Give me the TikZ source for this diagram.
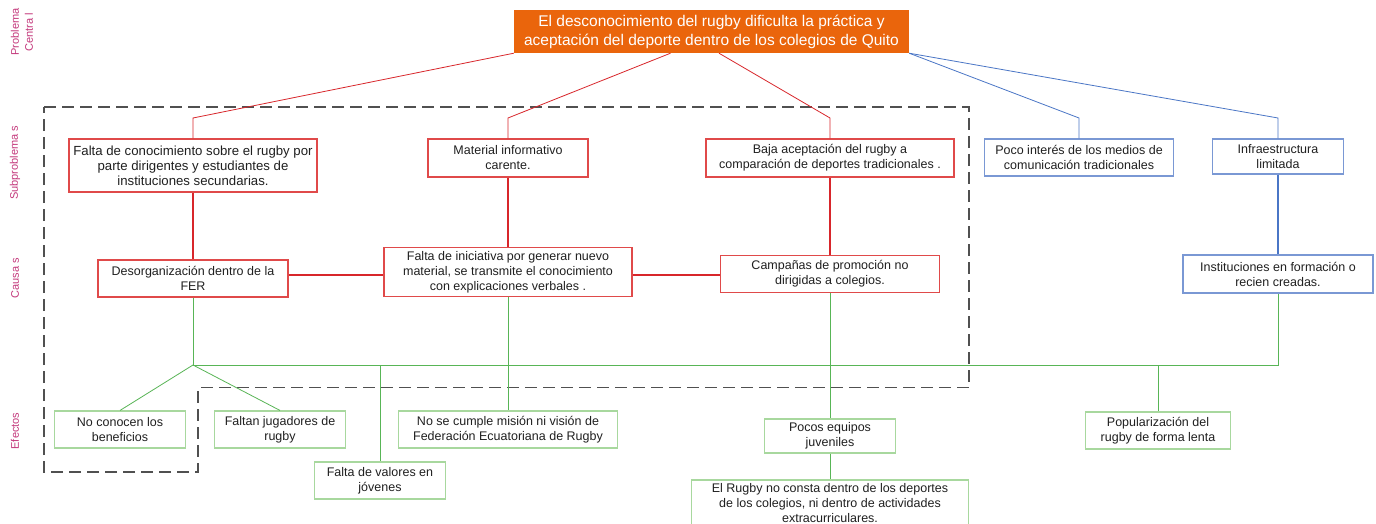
\documentclass[tikz,border=0pt]{standalone}
\usepackage{fontspec}
\setmainfont{Liberation Sans}
\usetikzlibrary{calc}
\definecolor{orng}{HTML}{EA650C}
\definecolor{redln}{HTML}{D8262B}
\definecolor{redbd}{HTML}{E04A4A}
\definecolor{blueln}{HTML}{4A76C6}
\definecolor{bluebd}{HTML}{7A98D4}
\definecolor{greenln}{HTML}{58B556}
\definecolor{greenbd}{HTML}{A8D89E}
\definecolor{lab}{HTML}{C4397C}
\definecolor{dash}{HTML}{505050}
\definecolor{txt}{HTML}{202020}
\tikzset{
  box/.style={draw, line width=1.1pt, fill=white, align=center, inner sep=1pt,
    text=txt, font=\fontsize{12.5}{15}\selectfont},
  redbox/.style={box, draw=redbd},
  bluebox/.style={box, draw=bluebd},
  greenbox/.style={box, draw=greenbd},
  titlebox/.style={fill=orng, text=white, align=center, inner sep=0pt,
    font=\fontsize{15.5}{19}\selectfont},
  sidelab/.style={rotate=90, text=lab, align=center, font=\fontsize{11}{14}\selectfont},
  redthin/.style={draw=redln, line width=0.8pt},
  redthick/.style={draw=redln, line width=1.8pt},
  bluethin/.style={draw=blueln, line width=0.8pt},
  bluethick/.style={draw=blueln, line width=1.8pt},
  greenthin/.style={draw=greenln, line width=0.8pt},
  dashframe/.style={draw=dash, line width=1.3pt, dash pattern=on 12pt off 6pt},
}
\begin{document}
\begin{tikzpicture}[x=1pt, y=-1pt]
\clip (0,0) rectangle (1376,524);
\fill[white] (0,0) rectangle (1376,524);

% dashed frame
\draw[dashframe] (44,107) -- (969,107) -- (969,387.5) -- (198,387.5) -- (198,472) -- (44,472) -- cycle;

% side labels
\node[sidelab] (lprob) at (22,32) {Problema\\Centra l};
\node[sidelab] (lsub) at (15,163) {Subproblema s};
\node[sidelab] (lcau) at (15,278) {Causa s};
\node[sidelab] (lefe) at (15,431) {Efectos};

% title
\node[titlebox, minimum width=395pt, minimum height=43pt] (title) at (711.5,31.5)
  {El desconocimiento del rugby dificulta la práctica y\\aceptación del deporte dentro de los colegios de Quito};

% subproblems
\node[redbox, minimum width=248pt, minimum height=53pt, font=\fontsize{13.2}{15}\selectfont] (s1) at (193,165.5)
  {Falta de conocimiento sobre el rugby por\\parte dirigentes y estudiantes de\\instituciones secundarias.};
\node[redbox, minimum width=160pt, minimum height=38pt] (s2) at (508,158)
  {Material informativo\\carente.};
\node[redbox, minimum width=248pt, minimum height=38pt] (s3) at (830,158)
  {Baja aceptación del rugby a\\comparación de deportes tradicionales .};
\node[bluebox, minimum width=189pt, minimum height=37pt] (s4) at (1079,157.5)
  {Poco interés de los medios de\\comunicación tradicionales};
\node[bluebox, minimum width=131pt, minimum height=35pt] (s5) at (1278,156.5)
  {Infraestructura\\limitada};

% causes
\node[redbox, minimum width=190pt, minimum height=37pt] (c1) at (193,278.5)
  {Desorganización dentro de la\\FER};
\node[redbox, minimum width=248pt, minimum height=49pt] (c2) at (508,272)
  {Falta de iniciativa por generar nuevo\\material, se transmite el conocimiento\\con explicaciones verbales .};
\node[redbox, minimum width=219pt, minimum height=37pt] (c3) at (830,274)
  {Campañas de promoción no\\dirigidas a colegios.};
\node[bluebox, minimum width=190pt, minimum height=38pt] (cb) at (1278,274)
  {Instituciones en formación o\\recien creadas.};

% effects
\node[greenbox, minimum width=131pt, minimum height=37pt] (e1) at (120,429.5)
  {No conocen los\\beneficios};
\node[greenbox, minimum width=131pt, minimum height=37pt] (e2) at (280,429.5)
  {Faltan jugadores de\\rugby};
\node[greenbox, minimum width=131pt, minimum height=37pt] (e3) at (380,480.5)
  {Falta de valores en\\jóvenes};
\node[greenbox, minimum width=219pt, minimum height=37pt] (e4) at (508,429.5)
  {No se cumple misión ni visión de\\Federación Ecuatoriana de Rugby};
\node[greenbox, minimum width=131pt, minimum height=34pt] (e5) at (830,436)
  {Pocos equipos\\juveniles};
\node[greenbox, minimum width=277pt, minimum height=47pt] (e6) at (830,503.5)
  {El Rugby no consta dentro de los deportes\\de los colegios, ni dentro de actividades\\extracurriculares.};
\node[greenbox, minimum width=145pt, minimum height=37pt] (e7) at (1158,430.5)
  {Popularización del\\rugby de forma lenta};

% elbow coordinates
\coordinate (k1) at (193,118);
\coordinate (k2) at (508,118);
\coordinate (k3) at (830,118);
\coordinate (k4) at (1079,118);
\coordinate (k5) at (1278,118);
\coordinate (hr) at (0,275);
\coordinate (hub) at (193,365);

% title -> subproblems
\draw[redthin] (title.south west) -- (k1) -- (s1.north);
\draw[redthin] ([xshift=-41pt]title.south) -- (k2) -- (s2.north);
\draw[redthin] ([xshift=7.5pt]title.south) -- (k3) -- (s3.north);
\draw[bluethin] (title.south east) -- (k4) -- (s4.north);
\draw[bluethin] (title.south east) -- (k5) -- (s5.north);

% subproblems -> causes
\draw[redthick] (s1.south) -- (c1.north);
\draw[redthick] (s2.south) -- (c2.north);
\draw[redthick] (s3.south) -- (c3.north);
\draw[bluethick] (s5.south) -- (cb.north);
\draw[redthick] (c1.east |- hr) -- (c2.west |- hr);
\draw[redthick] (c2.east |- hr) -- (c3.west |- hr);

% causes -> effects
\draw[greenthin] (c1.south) -- (hub) -- (cb.south |- hub) -- (cb.south);
\draw[greenthin] (hub) -- (e1.north);
\draw[greenthin] (hub) -- (e2.north);
\draw[greenthin] (e3.north |- hub) -- (e3.north);
\draw[greenthin] (c2.south) -- (e4.north);
\draw[greenthin] (c3.south) -- (e5.north);
\draw[greenthin] (e5.south) -- (e6.north);
\draw[greenthin] (e7.north |- hub) -- (e7.north);
\end{tikzpicture}
\end{document}
